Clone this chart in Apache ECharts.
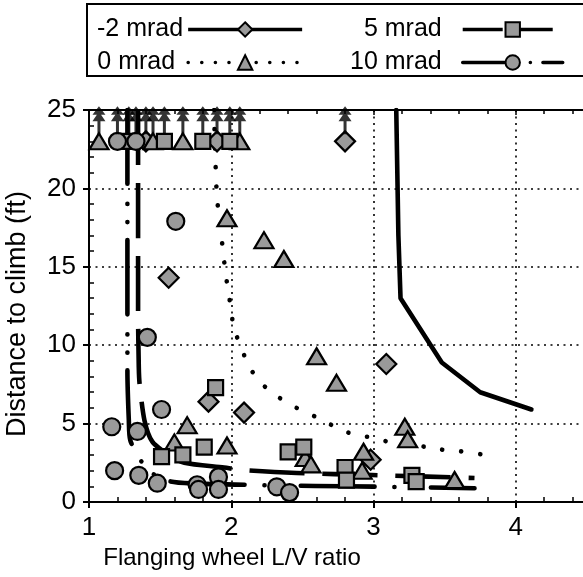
<!DOCTYPE html>
<html>
<head>
<meta charset="utf-8">
<script src="https://cdn.jsdelivr.net/npm/echarts@6/dist/echarts.min.js"></script>
<style>html,body{margin:0;padding:0;background:#fff}#c{width:583px;height:577px}</style>
</head>
<body>
<div id="c"></div>
<script>
// ---------- data ----------
const seriesNames = ['-2 mrad', '0 mrad', '5 mrad', '10 mrad'];
const noClimbValue = 23; // tests that did not climb (drawn with an up arrow)

const minus2Points = [[1.40,23],[1.90,23],[2.80,23],[1.56,14.3],[1.84,6.4],[2.09,5.7],[3.09,8.8],[2.98,2.7]];
const zeroPoints = [[1.07,23],[1.45,23],[1.66,23],[2.06,23],[1.97,18.1],[2.23,16.7],[2.37,15.5],[2.60,9.3],
  [2.74,7.6],[1.69,4.9],[1.60,3.8],[1.97,3.6],[3.22,4.8],[3.24,4.0],[2.52,2.8],[2.56,2.4],[2.93,3.2],[2.92,2.0],[3.57,1.4]];
const fivePoints = [[1.28,23],[1.53,23],[1.80,23],[1.99,23],[1.89,7.3],[1.81,3.5],[1.51,2.9],[1.66,3.0],
  [2.40,3.2],[2.51,3.5],[2.80,2.2],[2.81,1.4],[3.27,1.7],[3.30,1.3]];
const tenPoints = [[1.20,23],[1.33,23],[1.61,17.9],[1.41,10.5],[1.51,5.9],[1.16,4.8],[1.34,4.5],[1.18,2.0],
  [1.35,1.7],[1.48,1.2],[1.76,1.1],[1.77,0.8],[1.91,1.6],[1.91,0.8],[2.32,0.97],[2.41,0.6]];

const minus2Fit = [[3.16,25],[3.175,17],[3.19,13.0],[3.48,8.9],[3.75,7.0],[4.11,5.9]];
const zeroFit = [[1.88,25],[1.885,22.5],[1.89,21.4],[1.90,19.4],[1.93,17.0],[1.96,14.6],[1.98,13.4],[2.00,12.2],
  [2.02,11.0],[2.07,9.9],[2.12,8.7],[2.22,7.5],[2.33,6.7],[2.46,6.0],[2.60,5.4],[2.73,4.8],[2.86,4.3],
  [3.00,4.1],[3.12,3.8],[3.38,3.5],[3.51,3.3],[3.65,3.2],[3.78,3.0]];
const fiveFit = [[1.345,25],[1.345,12.1],[1.35,8.6],[1.356,7.5],[1.39,5.2],[1.445,3.85],[1.56,3.0],[1.67,2.5],
  [1.95,2.2],[2.07,2.05],[2.46,1.85],[2.99,1.72],[3.71,1.53]];
const tenFit = [[1.27,25],[1.27,8.4],[1.28,5.2],[1.29,3.95],[1.356,2.74],[1.45,1.8],[1.57,1.32],[1.72,1.19],
  [2.19,1.08],[2.59,1.02],[3.00,0.98],[3.71,0.88]];

// ---------- styling ----------
const FONT = 'Liberation Sans, Arial, Helvetica, sans-serif';
const markerFill = '#9a9a9a';
const arrowPath = 'path://M6.5,0 L13,8.5 L8.6,8.5 L13,15 L8,15 L8,28 L5,28 L5,15 L0,15 L4.4,8.5 L0,8.5 Z';

function markerSeries(name, data, symbol, size) {
  return {
    name: name, type: 'line', data: data, symbol: symbol, symbolSize: size,
    showSymbol: true, showAllSymbol: true, z: 5, silent: true,
    lineStyle: { opacity: 0, width: 0 },
    itemStyle: { color: markerFill, borderColor: '#000', borderWidth: 2.2 }
  };
}
function fitSeries(name, data, width, type, cap, smooth) {
  return {
    name: name, type: 'line', data: data, symbol: 'none', z: 3, silent: true, smooth: smooth,
    lineStyle: { color: '#000', width: width, type: type, cap: cap || 'butt', join: 'round' }
  };
}

const allPoints = [].concat(minus2Points, zeroPoints, fivePoints, tenPoints);
const arrowData = allPoints.filter(p => p[1] >= noClimbValue);

const chart = echarts.init(document.getElementById('c'));
chart.setOption({
  animation: false,
  backgroundColor: '#fff',
  grid: { left: 89, width: 569, top: 110, bottom: 75, containLabel: false, outerBoundsMode: 'none' },
  graphic: [{
    type: 'rect', shape: { x: 87, y: 4, width: 540, height: 72 }, z: 0,
    style: { fill: 'none', stroke: '#000', lineWidth: 2 }
  }],
  legend: [{
    data: [
      { name: seriesNames[0], lineStyle: { width: 3.5, color: '#000', opacity: 1, type: 'solid' }, itemStyle: { opacity: 1 } },
      { name: seriesNames[1], lineStyle: { width: 3.5, color: '#000', opacity: 1, type: [0.1, 13.5], cap: 'round' }, itemStyle: { opacity: 1 },
        textStyle: { padding: [0, 8, 0, 0] } }
    ],
    orient: 'vertical', align: 'right', left: 97, top: 17, padding: 0,
    itemWidth: 114, itemHeight: 18, itemGap: 8, selectedMode: false,
    textStyle: { fontSize: 25, fontFamily: FONT, color: '#000', lineHeight: 22 }
  }, {
    data: [
      { name: seriesNames[2], lineStyle: { width: 3.5, color: '#000', opacity: 1, type: [40, 10] }, itemStyle: { opacity: 1 } },
      { name: seriesNames[3], lineStyle: { width: 3.5, color: '#000', opacity: 1, type: [42, 13, 0.1, 12.5, 0.1, 12.5], cap: 'round' }, itemStyle: { opacity: 1 } }
    ],
    orient: 'vertical', align: 'right', left: 350, top: 17, padding: 0,
    itemWidth: 100, itemHeight: 18, itemGap: 8, selectedMode: false,
    textStyle: { fontSize: 25, fontFamily: FONT, color: '#000', lineHeight: 22, padding: [0, 16, 0, 0] }
  }],
  xAxis: [{
    type: 'value', min: 1, max: 5, interval: 1, position: 'bottom',
    name: 'Flanging wheel L/V ratio', nameLocation: 'middle', nameGap: 44,
    nameTextStyle: { fontSize: 24, fontFamily: FONT, color: '#000', padding: [0, 283, 0, 0] },
    axisLine: { show: true, lineStyle: { color: '#000', width: 2 } },
    axisTick: { show: true, inside: false, length: 6, lineStyle: { color: '#000', width: 2 } },
    minorTick: { show: true, splitNumber: 5, length: -5, lineStyle: { color: '#000', width: 1.5 } },
    axisLabel: { fontSize: 26, fontFamily: FONT, color: '#000', margin: 13, showMaxLabel: false },
    splitLine: { show: true, lineStyle: { color: '#000', width: 1.6, type: [2, 4.5] } }
  }, {
    type: 'value', min: 1, max: 5, interval: 1, position: 'top',
    axisLine: { show: true, lineStyle: { color: '#000', width: 2 } },
    axisTick: { show: true, inside: true, length: 5, lineStyle: { color: '#000', width: 1.5 } },
    minorTick: { show: true, splitNumber: 5, length: 4, lineStyle: { color: '#000', width: 1.5 } },
    axisLabel: { show: false }, splitLine: { show: false }
  }],
  yAxis: [{
    type: 'value', min: 0, max: 25, interval: 5,
    name: 'Distance to climb (ft)', nameLocation: 'middle', nameGap: 58,
    nameTextStyle: { fontSize: 27, fontFamily: FONT, color: '#000', padding: [0, 16, 0, 0] },
    axisLine: { show: true, lineStyle: { color: '#000', width: 2 } },
    axisTick: { show: true, inside: false, length: 6, lineStyle: { color: '#000', width: 2 } },
    minorTick: { show: true, splitNumber: 5, length: -5, lineStyle: { color: '#000', width: 1.5 } },
    axisLabel: { fontSize: 26, fontFamily: FONT, color: '#000', margin: 13 },
    splitLine: { show: true, lineStyle: { color: '#000', width: 1.6, type: [2, 4.5] } }
  }],
  series: [
    fitSeries('-2 mrad fit', minus2Fit, 4.6, 'solid', 'round', false),
    fitSeries('0 mrad fit', zeroFit, 4.6, [0.1, 19], 'round', 0.25),
    fitSeries('5 mrad fit', fiveFit, 4.6, [55, 18], 'butt', 0.25),
    fitSeries('10 mrad fit', tenFit, 4.6, [74, 20, 0.1, 18, 0.1, 18], 'round', 0.25),
    markerSeries(seriesNames[0], minus2Points, 'diamond', [20, 20]),
    markerSeries(seriesNames[1], zeroPoints, 'triangle', [19, 16]),
    markerSeries(seriesNames[2], fivePoints, 'rect', [15, 15]),
    markerSeries(seriesNames[3], tenPoints, 'circle', [17, 17]),
    {
      name: 'did not climb', type: 'scatter', data: arrowData, symbol: arrowPath, symbolSize: [13, 28],
      symbolOffset: [0, -21], z: 6, silent: true, itemStyle: { color: '#000' }
    }
  ]
});
</script>
</body>
</html>
